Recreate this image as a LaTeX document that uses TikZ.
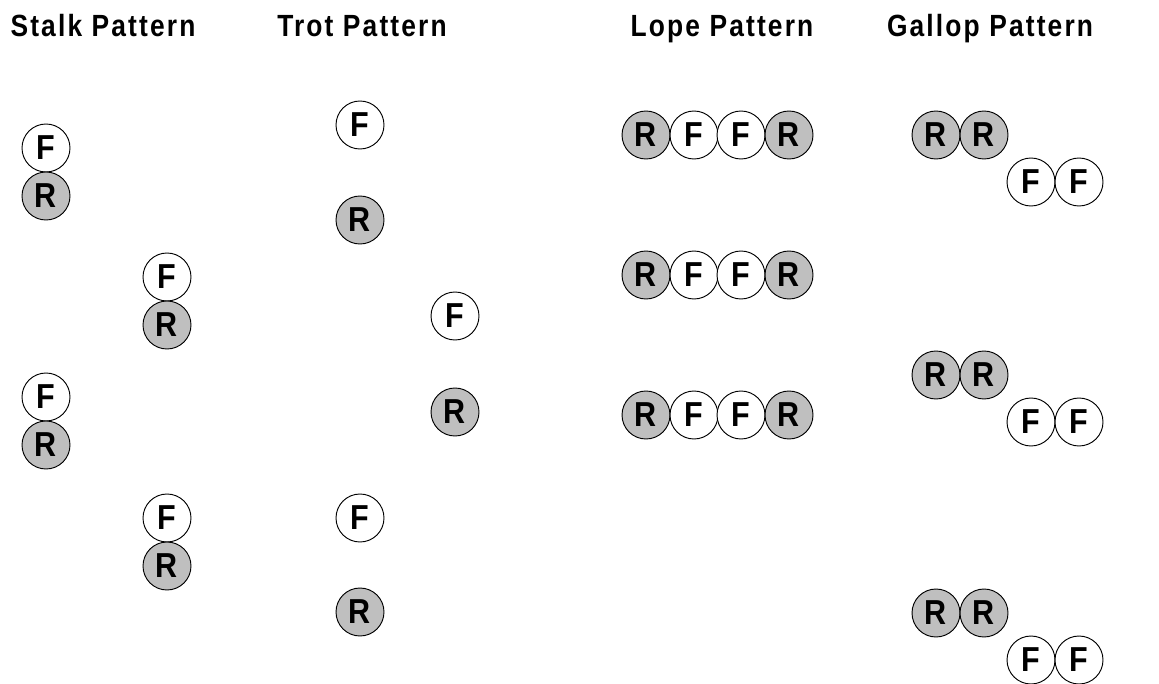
\documentclass[tikz,border=0pt]{standalone}
\usepackage{fontspec}
\setmainfont{Liberation Sans}
\usetikzlibrary{positioning}

\begin{document}
\begin{tikzpicture}[x=0.75pt,y=-0.75pt,
  every node/.style={font=\fontsize{26}{30}\selectfont\bfseries\addfontfeature{FakeStretch=0.88}},
  foot/.style={circle,draw=black,line width=0.7pt,minimum size=36pt,inner sep=0pt},
  frontfoot/.style={foot,fill=white},
  rearfoot/.style={foot,fill=black!25},
  title/.style={anchor=base,font=\fontsize{23}{27}\selectfont\bfseries\addfontfeature{FakeStretch=0.86,LetterSpace=7}}]
\useasboundingbox (0,0) rectangle (1159,684);
% titles
\node[title] (stalk) at (103,37) {Stalk Pattern};
\node[title] (trot) at (362,37) {Trot Pattern};
\node[title] (lope) at (722,37) {Lope Pattern};
\node[title] (gallop) at (990,37) {Gallop Pattern};
% stalk
\node[frontfoot] (stalkF1) at (46,148) {F};
\node[rearfoot] (stalkR1) at (46,196) {R};
\node[frontfoot] (stalkF2) at (167,277) {F};
\node[rearfoot] (stalkR2) at (167,325) {R};
\node[frontfoot] (stalkF3) at (46,397) {F};
\node[rearfoot] (stalkR3) at (46,445) {R};
\node[frontfoot] (stalkF4) at (167,518) {F};
\node[rearfoot] (stalkR4) at (167,566) {R};
% trot
\node[frontfoot] (trotF1) at (360,125) {F};
\node[rearfoot] (trotR1) at (360,220) {R};
\node[frontfoot] (trotF2) at (455,316) {F};
\node[rearfoot] (trotR2) at (455,412) {R};
\node[frontfoot] (trotF3) at (360,518) {F};
\node[rearfoot] (trotR3) at (360,612) {R};
% lope
\foreach \i/\y in {1/135,2/275,3/415} {
  \node[rearfoot] (lopeRa\i) at (646,\y) {R};
  \node[frontfoot] (lopeFa\i) at (694,\y) {F};
  \node[frontfoot] (lopeFb\i) at (741,\y) {F};
  \node[rearfoot] (lopeRb\i) at (789,\y) {R};
}
% gallop
\foreach \i/\y in {1/135,2/375,3/613} {
  \node[rearfoot] (gallopRa\i) at (936,\y) {R};
  \node[rearfoot] (gallopRb\i) at (984,\y) {R};
  \node[frontfoot] (gallopFa\i) at (1031,\y+47) {F};
  \node[frontfoot] (gallopFb\i) at (1079,\y+47) {F};
}
\end{tikzpicture}
\end{document}
